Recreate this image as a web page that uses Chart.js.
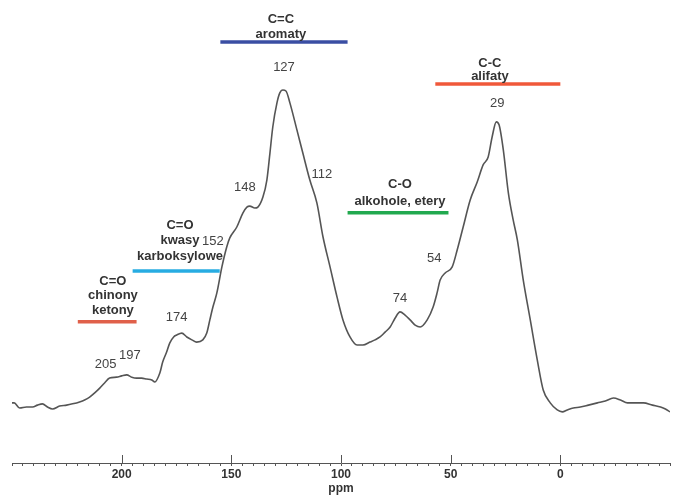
<!DOCTYPE html>
<html>
<head>
<meta charset="utf-8">
<script src="https://cdn.jsdelivr.net/npm/chart.js@4.4.1/dist/chart.umd.min.js"></script>
<style>
  html, body { margin: 0; padding: 0; background: #fff; }
  #wrap { width: 678px; height: 495px; }
</style>
</head>
<body>
<div id="wrap"><canvas id="nmr"></canvas></div>
<script>
// spectrum: chemical shift (ppm) and relative intensity (127 peak = 100)
const ppm = [250, 249, 246.5, 243.4, 240.6, 238.4, 236.1, 233.8, 231.5, 228.3, 225.1, 222.4, 219.2, 216.9, 214.6,
  212.3, 210, 207.8, 205.5, 202.3, 200, 197.7, 195.4, 193.2, 190.9, 188.6, 186.3, 184.9, 182.6, 181.3, 179.5, 178.1,
  176.3, 174.9, 172.6, 170.3, 168, 165.8, 163, 161.2, 159.8, 158.4, 156.6, 154.3, 152.1, 150.7, 147.5, 144.7, 142.9,
  141.6, 139.3, 137.9, 135.6, 133.8, 132.4, 131.1, 129.2, 127.9, 126.5, 125.1, 123.3, 120.1, 117.4, 114.2, 111,
  108.2, 105, 101.8, 99.1, 95.9, 92.7, 90, 86.8, 84.5, 82.2, 79.9, 77.6, 75.3, 73.1, 70.8, 68.5, 66.2, 63.9, 60.7,
  58, 56.2, 54.8, 52.5, 49.3, 47, 44.3, 41.1, 37.9, 35.2, 32.9, 31.1, 29.2, 27.9, 26, 23.7, 21.5, 19.6, 16.9, 13.7,
  10.5, 7.8, 4.6, 1.4, -0.9, -3.2, -5.9, -9.1, -12.8, -16.9, -20.5, -24.2, -27.4, -30.6, -34.2, -37.9, -42, -45.7,
  -47.9, -50];
const intensity = [2.7, 2.7, 1.1, 1.4, 1.4, 2.0, 2.4, 1.4, 0.8, 1.7, 2.0, 2.4, 3.0, 3.6, 4.5,
  5.8, 7.3, 8.9, 10.4, 10.7, 11.1, 11.4, 10.7, 10.4, 10.4, 10.1, 9.8, 9.2, 12.0, 15.4, 18.5, 21.3,
  23.2, 23.8, 24.4, 23.2, 22.3, 21.6, 22.3, 24.4, 28.5, 32.5, 36.9, 45.0, 51.2, 54.0, 57.4, 61.8, 63.6,
  63.9, 63.3, 63.6, 66.7, 72.0, 80.4, 88.5, 96.0, 99.1, 100, 99.7, 96.0, 87.6, 80.4, 72.0, 64.9,
  54.3, 45.0, 35.6, 28.5, 23.2, 20.7, 20.7, 21.6, 22.3, 23.2, 24.7, 26.3, 29.1, 31.0, 30.0, 28.5, 26.9, 26.3, 28.5,
  32.5, 36.9, 40.9, 43.1, 45.0, 50.3, 57.4, 65.8, 71.4, 76.7, 79.2, 85.4, 90.1, 89.1, 81.4, 68.0, 59.6, 53.4, 40.9, 28.5,
  16.0, 6.7, 2.7, 0.5, -0.1, 0.5, 1.1, 1.4, 2.0, 2.7, 3.3, 4.2, 3.6, 2.7, 2.7, 2.7, 2.0, 1.4,
  0.8, -0.1];

// assigned regions: bar span and level, and where the caption sits (last line)
const regionText = [['C=C', 'aromaty'], ['C-C', 'alifaty'], ['C-O', 'alkohole, etery'],
  ['C=O', 'kwasy', 'karboksylowe'], ['C=O', 'chinony', 'ketony']];
const regionFrom = [155, 57, 97, 195, 220];
const regionTo = [97, 0, 51, 155.3, 193.2];
const regionLevel = [114.9, 101.9, 61.8, 43.7, 27.9];
const captionPpm = [127.4, 32.1, 73.1, 173.4, 204.0];
const captionLevel = [117.4, 104.1, 65.2, 48.4, 31.6];
const captionSpacing = [15, 13, 17, 15.5, 14.5];
const regionColors = ['#3a4ea3', '#f0583a', '#22a94f', '#27ace2', '#e0604a'];

// peak labels
const peakText = ['127', '29', '112', '148', '152', '54', '74', '174', '205', '197'];
const peakPpm = [126, 28.8, 108.7, 143.8, 158.4, 57.5, 73.1, 174.9, 207.3, 196.3];
const peakLevel = [106.9, 95.7, 73.9, 69.6, 53.0, 47.5, 35.3, 29.4, 14.8, 17.6];

const majorTicks = [200, 150, 100, 50, 0];

const FONT = '"Liberation Sans", Arial, sans-serif';

const labelsPlugin = {
  id: 'labels',
  afterDatasetsDraw(chart) {
    const { ctx, scales: { x, y } } = chart;
    ctx.save();
    ctx.textAlign = 'center';
    ctx.textBaseline = 'middle';
    ctx.fillStyle = '#333';
    ctx.font = 'bold 13px ' + FONT;
    regionText.forEach((lines, i) => {
      const cx = x.getPixelForValue(captionPpm[i]);
      const ly = y.getPixelForValue(captionLevel[i]);
      lines.forEach((t, j) => {
        ctx.fillText(t, cx, ly - (lines.length - 1 - j) * captionSpacing[i]);
      });
    });
    ctx.fillStyle = '#444';
    ctx.font = '13px ' + FONT;
    peakText.forEach((t, i) => {
      ctx.fillText(t, x.getPixelForValue(peakPpm[i]), y.getPixelForValue(peakLevel[i]));
    });
    // long ticks on the ppm axis
    ctx.strokeStyle = '#555';
    ctx.lineWidth = 1;
    const yb = chart.chartArea.bottom;
    majorTicks.forEach(v => {
      const px = Math.round(x.getPixelForValue(v)) + 0.5;
      ctx.beginPath();
      ctx.moveTo(px, yb - 8);
      ctx.lineTo(px, yb);
      ctx.stroke();
    });
    ctx.restore();
  }
};

const datasets = [{
  data: ppm.map((p, i) => ({ x: p, y: intensity[i] })),
  borderColor: '#555',
  borderWidth: 1.6,
  pointRadius: 0,
  cubicInterpolationMode: 'monotone',
  fill: false
}];
regionText.forEach((_, i) => {
  datasets.push({
    data: [{ x: regionFrom[i], y: regionLevel[i] }, { x: regionTo[i], y: regionLevel[i] }],
    borderColor: regionColors[i],
    borderWidth: 3.5,
    borderCapStyle: 'butt',
    pointRadius: 0
  });
});

new Chart(document.getElementById('nmr'), {
  type: 'line',
  data: { datasets },
  options: {
    responsive: true,
    maintainAspectRatio: false,
    animation: false,
    layout: { padding: { left: 12, right: 8, top: 0, bottom: 0 } },
    plugins: { legend: { display: false }, tooltip: { enabled: false } },
    scales: {
      x: {
        type: 'linear',
        reverse: true,
        min: -50,
        max: 250,
        afterFit: (scale) => { scale.height = 32; },
        border: { display: true, color: '#555', width: 1 },
        grid: { drawOnChartArea: false, drawTicks: true, tickLength: 3, color: '#555' },
        ticks: {
          stepSize: 5,
          autoSkip: false,
          maxRotation: 0,
          padding: 1,
          color: '#333',
          font: { family: FONT, size: 12, weight: 'bold' },
          callback: (v) => (v % 50 === 0 && v > -50 && v < 250 ? String(v) : '')
        },
        title: {
          display: true,
          text: 'ppm',
          color: '#333',
          padding: { top: 0, bottom: -1 },
          font: { family: FONT, size: 12, weight: 'bold' }
        }
      },
      y: {
        display: false,
        min: -16,
        max: 128
      }
    }
  },
  plugins: [labelsPlugin]
});
</script>
</body>
</html>
